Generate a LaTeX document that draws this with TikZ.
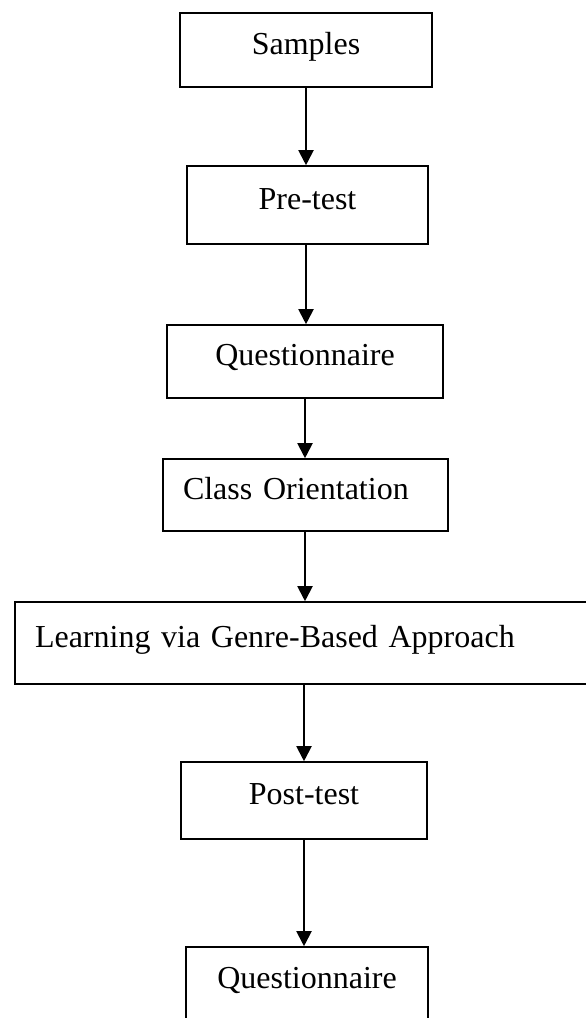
\documentclass[tikz,border=0pt]{standalone}
\usepackage{fontspec}
\setmainfont{Liberation Serif}
\usetikzlibrary{arrows.meta}
\begin{document}
\begin{tikzpicture}[x=0.5pt,y=-0.5pt,
    box/.style={draw,line width=0.8pt,font=\fontsize{16}{19}\selectfont,
        text height=9pt,text depth=4.8pt,inner sep=0pt},
    flow/.style={line width=1pt,-{Triangle[length=7.5pt,width=7.5pt]}}]
    \useasboundingbox (0,0) rectangle (585,1018);
    %draw boxes
    \node[box,minimum width=126pt,minimum height=37pt] (samples) at (306,50) {Samples};
    \node[box,minimum width=120.5pt,minimum height=39pt] (pretest) at (307.5,205) {Pre-test};
    \node[box,minimum width=138pt,minimum height=36.5pt] (quest) at (305,361.5) {Questionnaire};
    \node[box,minimum height=36pt,text width=122.5pt,inner xsep=10pt,align=left] (orient) at (305.5,495) {Class Orientation};
    \node[box,minimum height=41pt,text width=275pt,inner xsep=10pt,align=left] (learning) at (310,643) {Learning via Genre-Based Approach};
    \node[box,minimum width=123pt,minimum height=38.5pt] (posttest) at (304,800.5) {Post-test};
    \node[box,minimum width=121pt,minimum height=43pt,text depth=10.8pt] (questb) at (307,990) {Questionnaire};
    %draw arrows
    \draw[flow] (samples.south) -- (samples.south |- pretest.north);
    \draw[flow] (samples.south |- pretest.south) -- (samples.south |- quest.north);
    \draw[flow] (quest.south) -- (quest.south |- orient.north);
    \draw[flow] (quest.south |- orient.south) -- (quest.south |- learning.north);
    \draw[flow] (posttest.north |- learning.south) -- (posttest.north);
    \draw[flow] (posttest.south) -- (posttest.south |- questb.north);
\end{tikzpicture}
\end{document}
